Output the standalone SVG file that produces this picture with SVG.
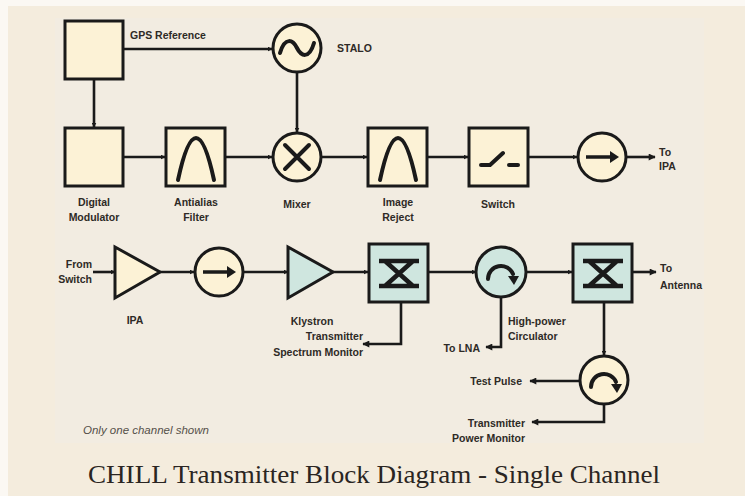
<svg xmlns="http://www.w3.org/2000/svg" width="745" height="496" viewBox="0 0 745 496">
<defs>
<marker id="ah" viewBox="0 0 10 10" refX="9" refY="5" markerWidth="8" markerHeight="7" markerUnits="userSpaceOnUse" orient="auto">
<path d="M0,0 L10,5 L0,10 Z" fill="#1a1a1a"/>
</marker>
<marker id="ahs" viewBox="0 0 10 10" refX="9" refY="5" markerWidth="5" markerHeight="5" markerUnits="userSpaceOnUse" orient="auto">
<path d="M0,0 L10,5 L0,10 Z" fill="#1a1a1a"/>
</marker>
<style>
.box{fill:#fcf2d6;stroke:#1a1a1a;stroke-width:3}
.teal{fill:#cfe6df;stroke:#1a1a1a;stroke-width:3}
.sym{fill:none;stroke:#1a1a1a;stroke-width:4;stroke-linecap:round;stroke-linejoin:round}
.bar{fill:none;stroke:#1a1a1a;stroke-width:4.5}
.ln{fill:none;stroke:#1a1a1a;stroke-width:2.6}
.lbl{font-family:"Liberation Sans",Arial,sans-serif;font-weight:bold;font-size:10.5px;fill:#2e2a26}
.mid{text-anchor:middle}
.end{text-anchor:end}
</style>
</defs>
<rect x="0" y="0" width="745" height="496" fill="#f4ecdd"/>
<rect x="0" y="0" width="745" height="6" fill="#fbf8f3"/>
<rect x="0" y="0" width="8" height="496" fill="#fbf8f3"/>
<rect x="55" y="18" width="649" height="425" fill="#f2ece1"/>

<g id="connectors">
<line class="ln" x1="94" y1="79" x2="94" y2="127" marker-end="url(#ahs)"/>
<line class="ln" x1="123" y1="49" x2="272" y2="49" marker-end="url(#ahs)"/>
<line class="ln" x1="297" y1="72" x2="297" y2="132" marker-end="url(#ahs)"/>
<line class="ln" x1="123" y1="157" x2="165" y2="157" marker-end="url(#ahs)"/>
<line class="ln" x1="225" y1="157" x2="272" y2="157" marker-end="url(#ahs)"/>
<line class="ln" x1="321" y1="157" x2="367" y2="157" marker-end="url(#ahs)"/>
<line class="ln" x1="427" y1="157" x2="468" y2="157" marker-end="url(#ahs)"/>
<line class="ln" x1="528" y1="157" x2="577" y2="157" marker-end="url(#ahs)"/>
<line class="ln" x1="626" y1="157" x2="655" y2="157" marker-end="url(#ah)"/>
<line class="ln" x1="93" y1="272" x2="115" y2="272" marker-end="url(#ahs)"/>
<line class="ln" x1="160" y1="272" x2="194" y2="272" marker-end="url(#ahs)"/>
<line class="ln" x1="243" y1="272" x2="288" y2="272" marker-end="url(#ahs)"/>
<line class="ln" x1="333" y1="272" x2="368" y2="272" marker-end="url(#ahs)"/>
<line class="ln" x1="428" y1="272" x2="476" y2="272" marker-end="url(#ahs)"/>
<line class="ln" x1="526" y1="272" x2="572" y2="272" marker-end="url(#ahs)"/>
<line class="ln" x1="632" y1="272" x2="656" y2="272" marker-end="url(#ah)"/>
<polyline class="ln" points="401,302 401,344 363,344" marker-end="url(#ah)"/>
<polyline class="ln" points="501,297 501,347 486,347" marker-end="url(#ah)"/>
<line class="ln" x1="604" y1="302" x2="604" y2="355" marker-end="url(#ahs)"/>
<line class="ln" x1="580" y1="381" x2="530" y2="381" marker-end="url(#ah)"/>
<polyline class="ln" points="604,404 604,422 532,422" marker-end="url(#ah)"/>
</g>

<g id="gps">
<rect class="box" x="65" y="21" width="58" height="58"/>
<text class="lbl" x="130" y="39">GPS Reference</text>
</g>
<g id="stalo">
<circle class="box" cx="297" cy="48" r="24"/>
<path class="sym" d="M280,53 C285,36 293,40 297,48 C301,56 309,60 314,43"/>
<text class="lbl" x="337" y="52">STALO</text>
</g>
<g id="digital-modulator">
<rect class="box" x="65" y="128" width="58" height="58"/>
<text class="lbl mid" x="94" y="206">Digital</text>
<text class="lbl mid" x="94" y="221">Modulator</text>
</g>
<g id="antialias-filter">
<rect class="box" x="166" y="128" width="59" height="58"/>
<path class="sym" d="M178,180 C184,152 190,138 196,138 C202,138 208,152 214,180"/>
<text class="lbl mid" x="196" y="206">Antialias</text>
<text class="lbl mid" x="196" y="221">Filter</text>
</g>
<g id="mixer">
<circle class="box" cx="297" cy="157" r="24"/>
<path class="sym" d="M285,145 L309,169 M309,145 L285,169"/>
<text class="lbl mid" x="297" y="208">Mixer</text>
</g>
<g id="image-reject">
<rect class="box" x="368" y="128" width="59" height="58"/>
<path class="sym" d="M380,180 C386,152 392,138 398,138 C404,138 410,152 416,180"/>
<text class="lbl mid" x="398" y="206">Image</text>
<text class="lbl mid" x="398" y="221">Reject</text>
</g>
<g id="switch">
<rect class="box" x="469" y="128" width="59" height="58"/>
<path class="sym" d="M481,165 L490,165 L503,153 M509,165 L518,165"/>
<text class="lbl mid" x="498" y="208">Switch</text>
</g>
<g id="isolator-1">
<circle class="box" cx="602" cy="157" r="24"/>
<line x1="586" y1="157" x2="613" y2="157" stroke="#1a1a1a" stroke-width="3.5"/>
<path d="M610,151 L619,157 L610,163 Z" fill="#1a1a1a"/>
<text class="lbl" x="659" y="156">To</text>
<text class="lbl" x="659" y="170">IPA</text>
</g>

<g id="ipa">
<polygon class="box" points="115,247 115,298 160,272"/>
<text class="lbl end" x="92" y="268">From</text>
<text class="lbl end" x="92" y="283">Switch</text>
<text class="lbl mid" x="135" y="324">IPA</text>
</g>
<g id="isolator-2">
<circle class="box" cx="219" cy="272" r="24"/>
<line x1="203" y1="272" x2="230" y2="272" stroke="#1a1a1a" stroke-width="3.5"/>
<path d="M227,266 L236,272 L227,278 Z" fill="#1a1a1a"/>
</g>
<g id="klystron">
<polygon class="teal" points="288,247 288,298 333,272"/>
<text class="lbl mid" x="312" y="325">Klystron</text>
</g>
<g id="coupler-1">
<rect class="teal" x="369" y="244" width="59" height="58"/>
<path class="bar" d="M379,261 L419,261 M379,286 L419,286 M385,261 L413,286 M413,261 L385,286"/>
<text class="lbl end" x="363" y="340">Transmitter</text>
<text class="lbl end" x="363" y="356">Spectrum Monitor</text>
</g>
<g id="hp-circulator">
<circle class="teal" cx="501" cy="272" r="25"/>
<path class="sym" d="M488,279 A13,13 0 0 1 513,274"/>
<path d="M508,276 L519,276 L514,285 Z" fill="#1a1a1a"/>
<text class="lbl end" x="480" y="352">To LNA</text>
<text class="lbl" x="508" y="325">High-power</text>
<text class="lbl" x="508" y="340">Circulator</text>
</g>
<g id="coupler-2">
<rect class="teal" x="573" y="244" width="59" height="58"/>
<path class="bar" d="M583,261 L623,261 M583,286 L623,286 M589,261 L617,286 M617,261 L589,286"/>
<text class="lbl" x="660" y="272">To</text>
<text class="lbl" x="660" y="289">Antenna</text>
</g>
<g id="circulator-2">
<circle class="box" cx="604" cy="380" r="24"/>
<path class="sym" d="M591,387 A13,13 0 0 1 616,382"/>
<path d="M611,384 L622,384 L617,393 Z" fill="#1a1a1a"/>
<text class="lbl end" x="522" y="385">Test Pulse</text>
<text class="lbl end" x="525" y="427">Transmitter</text>
<text class="lbl end" x="525" y="442">Power Monitor</text>
</g>

<text x="83" y="434" font-family="'Liberation Sans',Arial,sans-serif" font-style="italic" font-size="11.5" fill="#555049">Only one channel shown</text>
<text x="374" y="483" text-anchor="middle" font-family="'Liberation Serif','Times New Roman',serif" font-size="26" fill="#2a2522" textLength="572" lengthAdjust="spacingAndGlyphs">CHILL Transmitter Block Diagram - Single Channel</text>
</svg>
